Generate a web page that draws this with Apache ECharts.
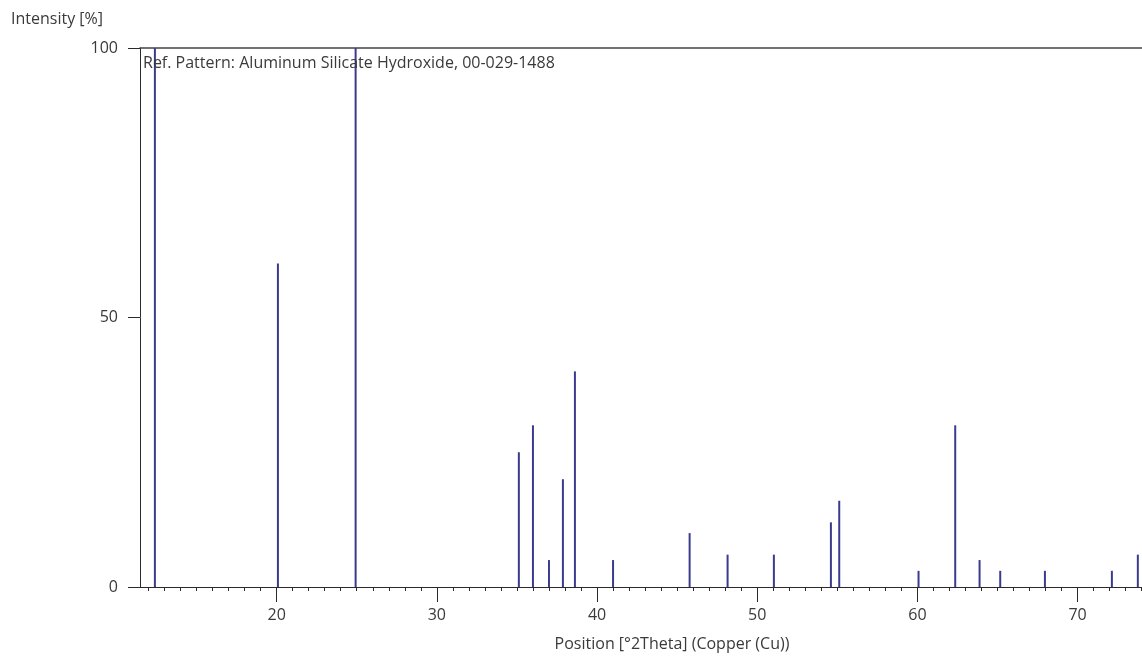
<!DOCTYPE html>
<html>
<head>
<meta charset="utf-8">
<title>Ref. Pattern</title>
<script src="https://cdn.jsdelivr.net/npm/echarts@6/dist/echarts.min.js"></script>
<style>
  html, body { margin: 0; padding: 0; background: #fff; }
  #chart { width: 1142px; height: 657px; }
</style>
</head>
<body>
<div id="chart"></div>
<script>
// peak positions (°2Theta) and relative intensities (%)
const positions = [12.4, 20.08, 24.93, 35.12, 36.0, 37.0, 37.87, 38.62, 41.0, 45.78,
  48.15, 51.04, 54.6, 55.12, 60.07, 62.36, 63.88, 65.17, 67.96, 72.14, 73.76]
const intensities = [100, 60, 100, 25, 30, 5, 20, 40, 5, 10,
  6, 6, 12, 16, 3, 30, 5, 3, 3, 3, 6]

const xMajorTicks = [20, 30, 40, 50, 60, 70]
const yTicks = [0, 50, 100]
const refLabel = 'Ref. Pattern: Aluminum Silicate Hydroxide, 00-029-1488'

const xMin = 11.47
const xMax = 74.02

// minor ticks every 1°
const xMinorTicks = []
for (let v = Math.ceil(xMin); v <= Math.floor(xMax); v++) {
  if (v % 10 !== 0) xMinorTicks.push(v)
}

const font = '"Open Sans", "Noto Sans", sans-serif'
const textColor = '#3a3a3a'
const axisColor = '#2a2a2a'
const peakColor = '#3b3b8e'

// a dash array with no gap draws solid, but keeps each tick as its own stroke
const solidUnbatched = [40, 0]

const chart = echarts.init(document.getElementById('chart'), null, { renderer: 'canvas' })

chart.setOption({
  animation: false,
  backgroundColor: '#fff',
  textStyle: { fontFamily: font },
  title: [
    {
      text: 'Intensity [%]',
      left: 11,
      top: 11,
      padding: 0,
      textStyle: { fontSize: 16, fontWeight: 'normal', color: textColor, fontFamily: font }
    },
    {
      text: refLabel,
      left: 143,
      top: 55,
      padding: 0,
      textStyle: { fontSize: 16, fontWeight: 'normal', color: textColor, fontFamily: font }
    }
  ],
  grid: { left: 140, right: 0, top: 48, bottom: 69 },
  xAxis: [
    {
      type: 'value',
      position: 'bottom',
      min: xMin,
      max: xMax,
      name: 'Position [°2Theta] (Copper (Cu))',
      nameLocation: 'middle',
      nameGap: 49,
      nameTextStyle: { fontSize: 16, color: textColor, fontFamily: font, padding: [0, 0, 0, 62] },
      splitLine: { show: false },
      axisLine: { show: true, lineStyle: { color: axisColor, width: 1 } },
      axisTick: {
        show: true,
        customValues: xMajorTicks,
        length: 15,
        lineStyle: { color: axisColor, width: 1, type: solidUnbatched }
      },
      axisLabel: { customValues: xMajorTicks, margin: 20, fontSize: 16, color: textColor, fontFamily: font }
    },
    {
      type: 'value',
      position: 'bottom',
      min: xMin,
      max: xMax,
      splitLine: { show: false },
      axisLine: { show: false },
      axisLabel: { show: false },
      axisTick: {
        show: true,
        customValues: xMinorTicks,
        length: 4,
        lineStyle: { color: axisColor, width: 1, type: solidUnbatched }
      }
    },
    {
      type: 'value',
      position: 'top',
      min: xMin,
      max: xMax,
      splitLine: { show: false },
      axisLine: { show: true, lineStyle: { color: '#444', width: 1.5 } },
      axisTick: { show: false },
      axisLabel: { show: false }
    }
  ],
  yAxis: {
    type: 'value',
    min: 0,
    max: 100,
    splitLine: { show: false },
    axisLine: { show: true, lineStyle: { color: axisColor, width: 1 } },
    axisTick: {
      show: true,
      customValues: yTicks,
      length: 12,
      lineStyle: { color: axisColor, width: 1, type: solidUnbatched }
    },
    axisLabel: { customValues: yTicks, margin: 22, fontSize: 16, color: textColor, fontFamily: font }
  },
  series: [
    {
      type: 'bar',
      xAxisIndex: 0,
      barWidth: 2,
      itemStyle: { color: peakColor },
      data: positions.map((x, i) => [x, intensities[i]])
    }
  ]
})
</script>
</body>
</html>
